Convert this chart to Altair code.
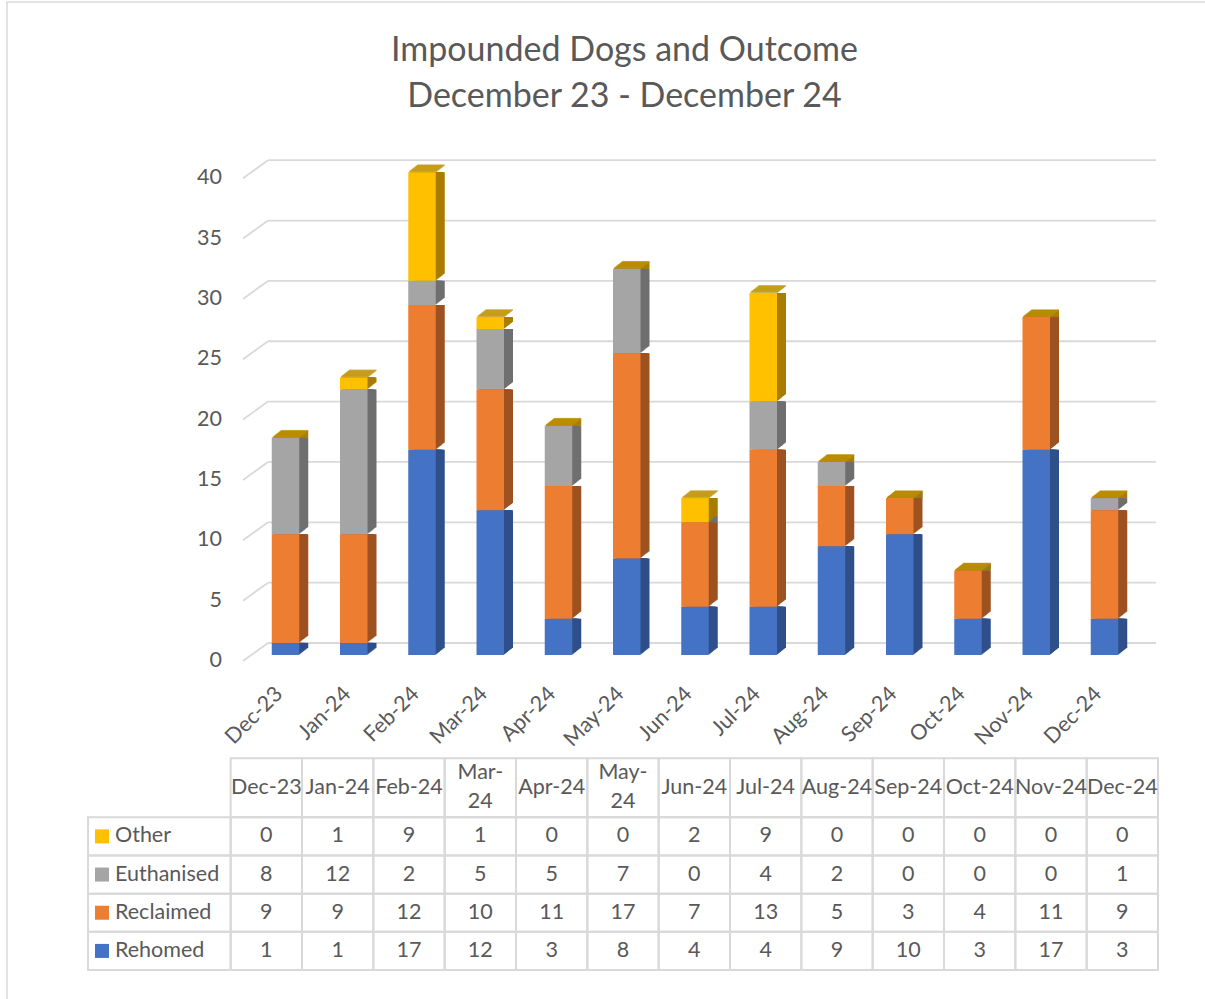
import altair as alt
import pandas as pd

# ---- data -----------------------------------------------------------------
months = ["Dec-23", "Jan-24", "Feb-24", "Mar-24", "Apr-24", "May-24", "Jun-24",
          "Jul-24", "Aug-24", "Sep-24", "Oct-24", "Nov-24", "Dec-24"]
rehomed = [1, 1, 17, 12, 3, 8, 4, 4, 9, 10, 3, 17, 3]
reclaimed = [9, 9, 12, 10, 11, 17, 7, 13, 5, 3, 4, 11, 9]
euthanised = [8, 12, 2, 5, 5, 7, 0, 4, 2, 0, 0, 0, 1]
other = [0, 1, 9, 1, 0, 0, 2, 9, 0, 0, 0, 0, 0]

series_names = ["Rehomed", "Reclaimed", "Euthanised", "Other"]  # stacking order, bottom up
series_values = [rehomed, reclaimed, euthanised, other]
y_ticks = [0, 5, 10, 15, 20, 25, 30, 35, 40]
title_lines = ["Impounded Dogs and Outcome", "December 23 - December 24"]
wrapped_months = ["Mar-24", "May-24"]   # too wide for one line in the table header

# ---- styling --------------------------------------------------------------
FONT = "Lato"
TEXT = "#595959"
GRID = "#D9D9D9"
front_colors = ["#4472C4", "#ED7D31", "#A5A5A5", "#FFC000"]
side_colors = ["#2F4F8A", "#9E5221", "#6F6F6F", "#A87D00"]
TOP_FACE = "#BF9000"
BAR_W = 27.5
DEPTH_X, DEPTH_Y = 9, 7          # extrusion of the 3-D columns, in px
WALL_X, WALL_FRONT, WALL_BACK = 25, 6, -12   # gridline perspective offsets
FS = 21.5

W, H = 1198, 997

# ---- tables ---------------------------------------------------------------
stack_rows = []
total_rows = []
for i, m in enumerate(months):
    base = 0
    for s, vals in zip(series_names, series_values):
        stack_rows.append({"month": m, "series": s, "y0": base, "y1": base + vals[i]})
        base += vals[i]
    total_rows.append({"month": m, "total": base})
stack = pd.DataFrame(stack_rows)
totals = pd.DataFrame(total_rows)
ticks = pd.DataFrame({"v": y_ticks})

x_bar = alt.Scale(domain=months, range=[244.375, 1131.625], paddingInner=0, paddingOuter=0)
y_bar = alt.Scale(domain=[0, 40], range=[653, 170.2], nice=False, zero=False)
X = alt.X("month:N", scale=x_bar, sort=months, axis=None)

# chart-area frame; its right and bottom edges run past the canvas
frame = alt.Chart(pd.DataFrame({"f": [0]})).mark_rect(
    fill="#FFFFFF", fillOpacity=0, stroke=GRID, strokeWidth=1.5
).encode(x=alt.value(0), x2=alt.value(W + 20), y=alt.value(0), y2=alt.value(H + 20))

# back-wall gridlines with a short perspective run to the front plane
grid_diag = alt.Chart(ticks).mark_rule(
    color=GRID, strokeWidth=1.8, yOffset=WALL_FRONT, y2Offset=WALL_BACK
).encode(
    x=alt.value(236), x2=alt.value(236 + WALL_X),
    y=alt.Y("v:Q", scale=y_bar, axis=None), y2="v:Q",
)
grid_back = alt.Chart(ticks).mark_rule(
    color=GRID, strokeWidth=1.8, yOffset=WALL_BACK
).encode(
    x=alt.value(236 + WALL_X), x2=alt.value(1149),
    y=alt.Y("v:Q", scale=y_bar, axis=None),
)
y_labels = alt.Chart(ticks).mark_text(
    font=FONT, fontSize=FS, color=TEXT, align="right", baseline="middle", yOffset=WALL_FRONT
).encode(
    x=alt.value(215),
    y=alt.Y("v:Q", scale=y_bar, axis=None),
    text="v:Q",
)

# extruded sides and tops: copies stepped back into depth, farthest first
depth_layers = []
for k in range(DEPTH_X, 0, -1):
    dy = -k * DEPTH_Y / DEPTH_X
    depth_layers.append(
        alt.Chart(stack).mark_bar(size=BAR_W, xOffset=k, yOffset=dy).encode(
            x=X,
            y=alt.Y("y0:Q", scale=y_bar, axis=None), y2="y1:Q",
            color=alt.Color("series:N", scale=alt.Scale(domain=series_names, range=side_colors), legend=None),
        )
    )
    depth_layers.append(
        alt.Chart(totals).mark_tick(size=BAR_W, thickness=1.6, color=TOP_FACE, xOffset=k, yOffset=dy).encode(
            x=X, y=alt.Y("total:Q", scale=y_bar, axis=None),
        )
    )

front = alt.Chart(stack).mark_bar(size=BAR_W).encode(
    x=X,
    y=alt.Y("y0:Q", scale=y_bar, axis=None), y2="y1:Q",
    color=alt.Color("series:N", scale=alt.Scale(domain=series_names, range=front_colors), legend=None),
)

# category labels, slanted under the floor of the plot
x_labels = alt.Chart(totals).mark_text(
    font=FONT, fontSize=FS, color=TEXT, angle=315, align="right", baseline="middle",
    xOffset=-6, yOffset=36,
).encode(
    x=X, y=alt.value(653), text="month:N",
)

title = alt.Chart(pd.DataFrame({"t": ["\n".join(title_lines)]})).mark_text(
    font=FONT, fontSize=34, color=TEXT, align="center", baseline="alphabetic",
    lineBreak="\n", lineHeight=46,
).encode(x=alt.value(617.5), y=alt.value(59), text="t:N")

plot3d = alt.layer(
    frame, grid_diag, grid_back, y_labels, *depth_layers, front, x_labels, title
).resolve_scale(color="independent")

# ---- data table beneath the plot -------------------------------------------
HEADER_ROWS = 1.545
n_rows = len(series_names)
cells = []
for i in range(len(months)):
    cells.append({"c0": i, "c1": i + 1, "r0": n_rows, "r1": n_rows + HEADER_ROWS})
for r in range(n_rows):
    cells.append({"c0": -2, "c1": 0, "r0": r, "r1": r + 1})
    for i in range(len(months)):
        cells.append({"c0": i, "c1": i + 1, "r0": r, "r1": r + 1})
cells = pd.DataFrame(cells)

header = pd.DataFrame({
    "c": [i + 0.5 for i in range(len(months))],
    "r": [n_rows + HEADER_ROWS / 2] * len(months),
    "label": [m.replace("-", "-\n") if m in wrapped_months else m for m in months],
    "lines": [2 if m in wrapped_months else 1 for m in months],
})
values = pd.DataFrame([
    {"c": i + 0.5, "r": r + 0.5, "label": str(vals[i])}
    for r, vals in enumerate(series_values) for i in range(len(months))
])
legend = pd.DataFrame({"c": [-2] * n_rows, "r": [r + 0.5 for r in range(n_rows)], "series": series_names})

x_tab = alt.Scale(domain=[-2, 13], range=[81, 1151], nice=False, zero=False)
y_tab = alt.Scale(domain=[0, n_rows + HEADER_ROWS], range=[968, 756.3], nice=False, zero=False)
XT = alt.X("c:Q", scale=x_tab, axis=None)
YT = alt.Y("r:Q", scale=y_tab, axis=None)

grid_cells = alt.Chart(cells).mark_rect(fill="#FFFFFF", fillOpacity=0, stroke=GRID, strokeWidth=2).encode(
    x=alt.X("c0:Q", scale=x_tab, axis=None), x2="c1:Q",
    y=alt.Y("r0:Q", scale=y_tab, axis=None), y2="r1:Q",
)
header_one = alt.Chart(header).transform_filter("datum.lines == 1").mark_text(
    font=FONT, fontSize=FS, color=TEXT, align="center", baseline="middle",
).encode(x=XT, y=YT, text="label:N")
LH = 29
header_two = alt.Chart(header).transform_filter("datum.lines == 2").mark_text(
    font=FONT, fontSize=FS, color=TEXT, align="center", baseline="middle",
    lineBreak="\n", lineHeight=LH, yOffset=-LH / 2,
).encode(x=XT, y=YT, text="label:N")
value_text = alt.Chart(values).mark_text(
    font=FONT, fontSize=FS, color=TEXT, align="center", baseline="middle",
).encode(x=XT, y=YT, text="label:N")
legend_keys = alt.Chart(legend).mark_square(size=196, opacity=1, xOffset=14).encode(
    x=XT, y=YT,
    color=alt.Color("series:N", scale=alt.Scale(domain=series_names, range=front_colors), legend=None),
)
legend_text = alt.Chart(legend).mark_text(
    font=FONT, fontSize=FS, color=TEXT, align="left", baseline="middle", xOffset=27,
).encode(x=XT, y=YT, text="series:N")

table = alt.layer(grid_cells, header_one, header_two, value_text, legend_keys, legend_text)

chart = alt.layer(plot3d, table).resolve_scale(
    x="independent", y="independent", color="independent"
).properties(
    width=W, height=H,
    autosize=alt.AutoSizeParams(type="none"),
    padding={"left": 7, "top": 2, "right": 0, "bottom": 0},
).configure_view(strokeWidth=0)

chart.save("out.html", embed_options={"renderer": "svg", "actions": False})
